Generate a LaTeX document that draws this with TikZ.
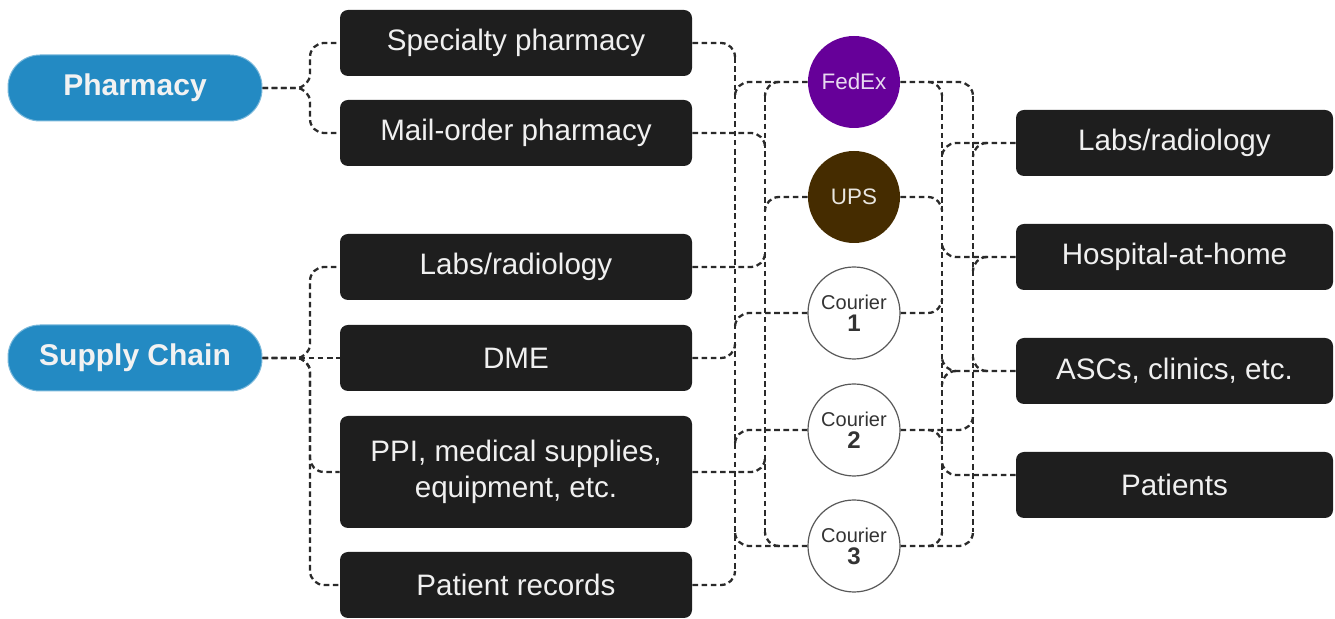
\documentclass[tikz,border=0pt]{standalone}
\usepackage{fontspec}
\setmainfont{Liberation Sans}
\usetikzlibrary{calc}

\definecolor{pillblue}{HTML}{238AC3}
\definecolor{boxgray}{HTML}{1E1E1E}
\definecolor{fedexpurple}{HTML}{660099}
\definecolor{upsbrown}{HTML}{452C00}
\definecolor{linkgray}{HTML}{2A2A2A}

\tikzset{
  pill/.style={rounded corners=16pt, fill=pillblue, draw=pillblue!60!white, line width=0.5pt,
    minimum width=127pt, minimum height=33pt, text=white!95!black,
    font=\fontsize{15}{18}\selectfont\bfseries},
  box/.style={rounded corners=4pt, fill=boxgray, minimum width=176pt, minimum height=33pt,
    text=white!94!black, font=\fontsize{14.8}{18}\selectfont, align=center},
  hub/.style={circle, minimum size=46pt, inner sep=0pt, align=center,
    font=\fontsize{10}{11}\selectfont},
  courier/.style={hub, draw=black!65, fill=white, line width=0.6pt, text=black!80},
  link/.style={draw=linkgray, line width=1.15pt, dash pattern=on 2.8pt off 1.8pt,
    rounded corners=7pt},
}

\begin{document}
\begin{tikzpicture}[x=0.5pt,y=-0.5pt]
  \useasboundingbox (0,0) rectangle (1335,619);

  % sources
  \node[pill] (ph) at (135,88) {Pharmacy};
  \node[pill] (sc) at (135,358) {Supply Chain};

  % suppliers
  \node[box] (spec) at (516,43) {Specialty pharmacy};
  \node[box] (mail) at (516,133) {Mail-order pharmacy};
  \node[box] (labl) at (516,267) {Labs/radiology};
  \node[box] (dme) at (516,358) {DME};
  \node[box, minimum height=56pt] (ppi) at (516,472) {PPI, medical supplies,\\equipment, etc.};
  \node[box] (rec) at (516,585) {Patient records};

  % carriers
  \node[hub, fill=fedexpurple, text=white!85!fedexpurple, font=\fontsize{11.2}{12}\selectfont] (fedex) at (854,82) {FedEx};
  \node[hub, fill=upsbrown, text=white!88!upsbrown, font=\fontsize{11.2}{12}\selectfont] (ups) at (854,197) {UPS};
  \node[courier] (cone) at (854,313) {Courier\\{\fontsize{12}{12}\selectfont\bfseries 1}};
  \node[courier] (ctwo) at (854,430) {Courier\\{\fontsize{12}{12}\selectfont\bfseries 2}};
  \node[courier] (cthree) at (854,546) {Courier\\{\fontsize{12}{12}\selectfont\bfseries 3}};

  % destinations
  \node[box, minimum width=158.5pt] (labr) at (1174.5,143) {Labs/radiology};
  \node[box, minimum width=158.5pt] (hosp) at (1174.5,257) {Hospital-at-home};
  \node[box, minimum width=158.5pt] (asc) at (1174.5,371) {ASCs, clinics, etc.};
  \node[box, minimum width=158.5pt] (pat) at (1174.5,485) {Patients};
  \coordinate (patin) at ([yshift=5pt]pat.west);

  % vertical runs
  \coordinate (jp) at (310,0);
  \coordinate (ba) at (735,0);
  \coordinate (bb) at (765,0);
  \coordinate (bc) at (942,0);
  \coordinate (bd) at (973,0);

  % sources to suppliers
  \draw[link] (ph.east) -| (jp |- spec.west) -- (spec.west);
  \draw[link] (ph.east) -| (jp |- mail.west) -- (mail.west);
  \draw[link] (sc.east) -- (dme.west);
  \foreach \b in {labl,ppi,rec}
    \draw[link] (sc.east) -| (jp |- \b.west) -- (\b.west);

  % suppliers into the runs (\s=1 turns down, -1 turns up)
  \foreach \n/\b/\s in {spec/ba/1, dme/ba/-1, rec/ba/-1, mail/bb/1, labl/bb/-1, ppi/bb/-1}
    \draw[link] (\n.east) -| ($(\b |- \n.east)+(0,14*\s)$);
  \foreach \n/\b/\s in {fedex/ba/1, ups/bb/1, cone/ba/1, ctwo/ba/1, cthree/ba/-1}
    \draw[link] (\n.west) -| ($(\b |- \n.west)+(0,14*\s)$);
  \foreach \n/\s in {fedex/1, cthree/-1}
    \draw[link] ($(bb |- \n.west)+(14,0)$) -| ($(bb |- \n.west)+(0,14*\s)$);
  \draw[link] ($(ba |- spec.east)+(0,14)$) -- ($(ba |- rec.east)+(0,-14)$);
  \draw[link] ($(bb |- fedex.west)+(0,14)$) -- ($(bb |- cthree.west)+(0,-14)$);

  % carriers into the runs
  \foreach \n/\b/\s in {fedex/bd/1, ups/bc/1, cone/bc/-1, ctwo/bd/-1, cthree/bd/-1}
    \draw[link] (\n.east) -| ($(\b |- \n.east)+(0,14*\s)$);
  \foreach \n/\s in {fedex/1, ctwo/1, cthree/-1}
    \draw[link] ($(bc |- \n.east)+(-14,0)$) -| ($(bc |- \n.east)+(0,14*\s)$);
  \foreach \n/\s in {labr.west/1, hosp.west/-1, asc.west/-1, patin/-1}
    \draw[link] (\n) -| ($(bc |- \n)+(0,14*\s)$);
  \foreach \n/\s in {labr/1, hosp/1, asc/-1}
    \draw[link] ($(bd |- \n.west)+(14,0)$) -| ($(bd |- \n.west)+(0,14*\s)$);
  \draw[link] ($(bc |- asc.west)+(14,0)$) -| ($(bc |- asc.west)+(0,14)$);
  \draw[link] ($(bc |- fedex.east)+(0,14)$) -- ($(bc |- cthree.east)+(0,-14)$);
  \draw[link] ($(bd |- fedex.east)+(0,14)$) -- ($(bd |- cthree.east)+(0,-14)$);
\end{tikzpicture}
\end{document}
